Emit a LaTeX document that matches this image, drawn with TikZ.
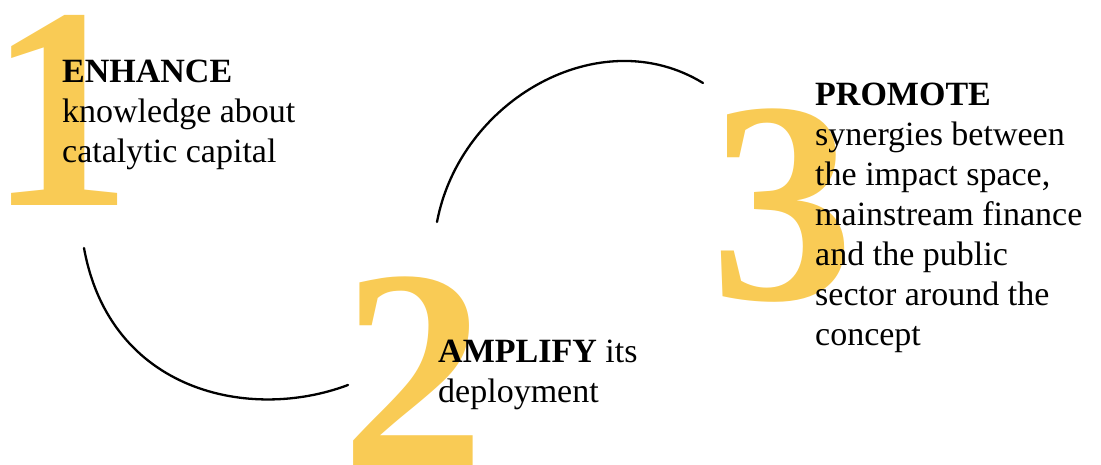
\documentclass[tikz,border=0pt]{standalone}
\usepackage{fontspec}
\setmainfont{Liberation Serif}
\definecolor{numyellow}{HTML}{F9CB55}
\begin{document}
\begin{tikzpicture}[x=1pt,y=-1pt,
  numeral/.style={text=numyellow, font=\fontsize{288}{288}\selectfont\bfseries, inner sep=0pt, anchor=base west},
  body/.style={font=\fontsize{34}{40}\selectfont, inner sep=0pt, anchor=base west, align=left},
  link/.style={line width=2.3pt, line cap=round}]
\useasboundingbox (0,0) rectangle (1101,465);
\node[numeral] (n1) at (-12,206) {1};
\node[numeral] (n2) at (341,467) {2};
\node[numeral] (n3) at (710,300) {3};
\node[body] (t1) at (62,163) {\textbf{ENHANCE}\\knowledge about\\catalytic capital};
\node[body] (t2) at (438,402) {\textbf{AMPLIFY} its\\deployment};
\node[body] (t3) at (815,345) {\textbf{PROMOTE}\\synergies between\\the impact space,\\mainstream finance\\and the public\\sector around the\\concept};
\coordinate (a1) at (84,248);
\coordinate (a2) at (348,385);
\coordinate (b1) at (437,222);
\coordinate (b2) at (703,83);
\draw[link] (a1) .. controls (110,392) and (250,422) .. (a2);
\draw[link] (b1) .. controls (460,100) and (600,20) .. (b2);
\end{tikzpicture}
\end{document}
